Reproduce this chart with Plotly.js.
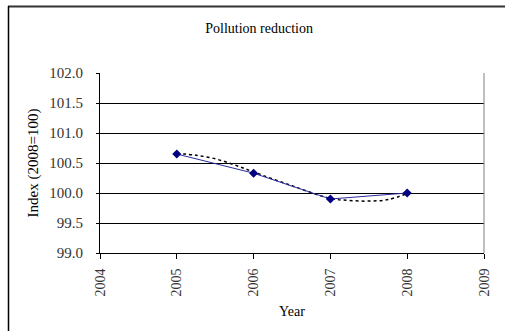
<!DOCTYPE html>
<html>
<head>
<meta charset="utf-8">
<script src="https://cdn.plot.ly/plotly-3.0.1.min.js"></script>
<style>html,body{margin:0;padding:0;background:#fff;}#chart{width:505px;height:331px;}</style>
</head>
<body>
<div id="chart"></div>
<script>
// Data
const years = [2005, 2006, 2007, 2008];
const indexValues = [100.65, 100.33, 99.9, 100.0];
const trendYears = [2005, 2005.25, 2005.5, 2005.75, 2006, 2006.5, 2007, 2007.25, 2007.5, 2007.75, 2008];
const trendValues = [100.66, 100.63, 100.57, 100.47, 100.35, 100.12, 99.91, 99.875, 99.865, 99.89, 99.99];
const xTicks = [2004, 2005, 2006, 2007, 2008, 2009];
const yTicks = [99.0, 99.5, 100.0, 100.5, 101.0, 101.5, 102.0];

const serif = '"Liberation Serif", "Times New Roman", serif';

const traces = [
  {
    x: trendYears, y: trendValues, mode: 'lines', type: 'scatter',
    line: {color: '#000000', width: 1.5, dash: 'dot', shape: 'spline'},
    hoverinfo: 'skip', showlegend: false
  },
  {
    x: years, y: indexValues, mode: 'lines+markers', type: 'scatter',
    line: {color: '#2a2aa0', width: 1},
    marker: {symbol: 'diamond', size: 7, color: '#000080'},
    showlegend: false
  }
];

const L = 100, R = 21, T = 73, B = 78, W = 505, H = 331;
const pw = W - L - R, ph = H - T - B;
const px = v => (v - L) / pw;
const py = v => (H - B - v) / ph;

const layout = {
  width: W, height: H,
  margin: {l: L, r: R, t: T, b: B, pad: 0},
  paper_bgcolor: '#ffffff', plot_bgcolor: '#ffffff',
  font: {family: serif, size: 14, color: '#000'},
  title: {text: 'Pollution reduction', font: {family: serif, size: 14, color: '#000'},
          xref: 'container', yref: 'container', x: 0.513, xanchor: 'center', y: 1 - 28/331, yanchor: 'middle'},
  xaxis: {
    range: [2004, 2009], tickmode: 'array', tickvals: xTicks, ticktext: xTicks.map(String),
    tickangle: -90, ticks: 'outside', ticklen: 5, tickcolor: '#000', tickwidth: 1,
    ticklabelstandoff: 4,
    showline: true, linecolor: '#000', linewidth: 1, mirror: false,
    showgrid: false, zeroline: false,
    tickfont: {family: serif, size: 14, color: '#333'},
    title: {text: 'Year', font: {family: serif, size: 14, color: '#000'}, standoff: 10}
  },
  yaxis: {
    range: [99, 102], tickmode: 'array', tickvals: yTicks, ticktext: yTicks.map(v => v.toFixed(1)),
    ticks: 'outside', ticklen: 3, tickcolor: '#000',
    ticklabelstandoff: 10,
    showline: true, linecolor: '#000', linewidth: 1,
    showgrid: true, gridcolor: '#000', gridwidth: 1, zeroline: false,
    tickfont: {family: serif, size: 15, color: '#333'},
    title: {text: 'Index (2008=100)', font: {family: serif, size: 15, color: '#000'}, standoff: 7}
  },
  shapes: [
    {type: 'line', xref: 'paper', yref: 'paper', x0: 1, x1: 1, y0: 0, y1: 1, line: {color: '#808080', width: 1}},
    {type: 'line', xref: 'paper', yref: 'paper', x0: px(8), x1: px(515), y0: py(6.5), y1: py(6.5), line: {color: '#333', width: 2}},
    {type: 'line', xref: 'paper', yref: 'paper', x0: px(8.5), x1: px(8.5), y0: py(6), y1: py(340), line: {color: '#000', width: 1.5}}
  ]
};

Plotly.newPlot('chart', traces, layout, {displayModeBar: false, staticPlot: true});
</script>
</body>
</html>
